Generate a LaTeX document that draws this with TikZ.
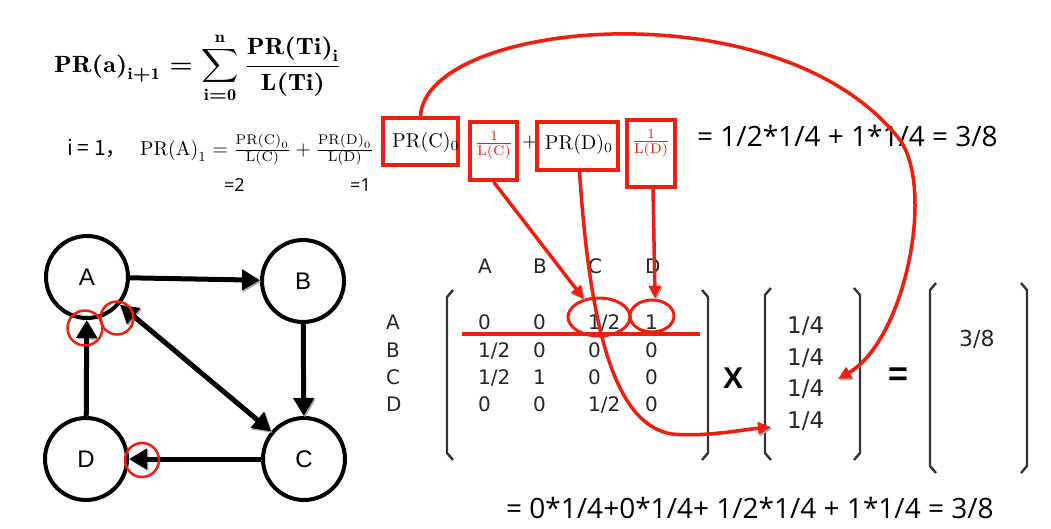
\documentclass[tikz,border=0pt]{standalone}
\usepackage{graphicx}
\usepackage{fontspec}
\usetikzlibrary{arrows.meta,shapes.geometric}
\newfontfamily\yahei{Noto Sans CJK SC}
\newfontfamily\dvs{DejaVu Sans}
\newfontfamily\lsans{Liberation Sans}
\newfontfamily\osans{Open Sans}
\definecolor{myred}{RGB}{240,30,15}
\newcommand{\ftop}{\scalebox{2.6}[2.35]{\boldmath$\mathrm{PR(a)}_{\mathrm{i+1}}=\displaystyle\sum_{\mathrm{i=0}}^{\mathrm{n}}\frac{\mathrm{PR(Ti)}_{\mathrm{i}}}{\mathrm{L(Ti)}}$}}
\newcommand{\fline}{\scalebox{1.97}[2]{$\mathrm{PR(A)}_1=\frac{\mathrm{PR(C)}_0}{\mathrm{L(C)}}+\frac{\mathrm{PR(D)}_0}{\mathrm{L(D)}}=$}}
\newcommand{\scl}[1]{\scalebox{2}{#1}}
\tikzset{
  gshadow/.style={preaction={draw=black!35, transform canvas={shift={(1.3pt,-1.5pt)}}}},
  redline/.style={draw=myred, line width=3.5pt, gshadow},
  redarrow/.style={redline, -{Triangle[length=13pt,width=12pt]}},
  redbox/.style={draw=myred, line width=3.5pt, fill=white, rectangle, inner sep=0pt},
  redring/.style={draw=myred, line width=3pt, ellipse, inner sep=0pt},
  gnode/.style={circle, draw=black, line width=4pt, fill=white, minimum size=82pt, inner sep=0pt, font=\lsans\fontsize{24}{28}\selectfont},
  gedge/.style={draw=black, line width=5pt, gshadow},
  gtip/.style={-{Triangle[length=18pt,width=20pt]}},
  brk/.style={draw=black!80, line width=2.4pt},
  mtx/.style={font=\dvs\fontsize{20}{24}\selectfont, text=black!85, anchor=base west, inner sep=0pt},
  vec/.style={font=\dvs\fontsize{23}{27}\selectfont, text=black!85, anchor=base west, inner sep=0pt},
  bigtxt/.style={font=\osans\fontsize{28}{32}\selectfont, anchor=base west, inner sep=0pt},
}
\begin{document}
\begin{tikzpicture}[x=1pt,y=-1pt]
\useasboundingbox (0,0) rectangle (1051,528);
\fill[white] (0,0) rectangle (1051,528);

\node[anchor=west, inner sep=0pt] (f0) at (54,68) {\ftop};

\node[anchor=base west, inner sep=0pt] (i1) at (67,155) {\yahei\fontsize{21}{24}\selectfont i = 1，};
\node[anchor=base west, inner sep=0pt] (l2) at (140,155) {\fline};
\node[anchor=base west, inner sep=0pt] (e2) at (224,191) {\osans\fontsize{18}{22}\selectfont =2};
\node[anchor=base west, inner sep=0pt] (e1) at (350,191) {\osans\fontsize{18}{22}\selectfont =1};

\node[redbox, minimum width=75pt, minimum height=47pt] (b1) at (420.5,141.5) {};
\node[anchor=west, inner sep=0pt] (t1) at (392,142) {\scl{PR(C)$_0$}};
\node[redbox, minimum width=47pt, minimum height=58pt] (b2) at (493.5,151) {};
\node[inner sep=0pt, text=myred] (t2) at (494,145) {\scl{$\frac{1}{\mathrm{L(C)}}$}};
\node[inner sep=0pt] (pl) at (530,142) {\scl{$+$}};
\node[redbox, minimum width=81pt, minimum height=48pt] (b3) at (577.5,146) {};
\node[inner sep=0pt] (t3) at (579,144) {\scl{PR(D)$_0$}};
\node[redbox, minimum width=48pt, minimum height=67pt] (b4) at (651,153.5) {};
\node[inner sep=0pt, text=myred] (t4) at (651,143) {\scl{$\frac{1}{\mathrm{L(D)}}$}};

\node[bigtxt] (r1) at (697,146) {= 1/2*1/4 + 1*1/4 = 3/8};
\node[bigtxt] (r2) at (506,518) {= 0*1/4+0*1/4+ 1/2*1/4 + 1*1/4 = 3/8};

\node[gnode] (A) at (87,277) {A};
\node[gnode] (B) at (303,281) {B};
\node[gnode] (C) at (304,459) {C};
\node[gnode] (D) at (86,459) {D};
\draw[gedge, gtip] (A) -- (B);
\draw[gedge, gtip] (B) -- (C);
\draw[gedge, {Triangle[length=18pt,width=20pt]}-{Triangle[length=18pt,width=20pt]}] (A) -- (C);
\draw[gedge, gtip] (C) -- (D);
\draw[gedge, gtip] (D) -- (A);
\node[circle, draw=myred, line width=2.5pt, minimum size=35pt, inner sep=0pt] (rc1) at (85,328) {};
\node[circle, draw=myred, line width=2.5pt, minimum size=33pt, inner sep=0pt] (rc2) at (117,318) {};
\node[circle, draw=myred, line width=2.5pt, minimum size=34pt, inner sep=0pt] (rc3) at (142,460) {};

\node[mtx] (hA) at (478,273) {A};
\node[mtx] (hB) at (533,273) {B};
\node[mtx] (hC) at (588,273) {C};
\node[mtx] (hD) at (645,273) {D};
\node[mtx] (rA) at (386,329) {A};
\node[mtx] (rB) at (386,357) {B};
\node[mtx] (rC) at (386,384) {C};
\node[mtx] (rD) at (386,411) {D};
\node[mtx] (m11) at (478,329) {0};
\node[mtx] (m12) at (533,329) {0};
\node[mtx] (m13) at (588,329) {1/2};
\node[mtx] (m14) at (645,329) {1};
\node[mtx] (m21) at (478,357) {1/2};
\node[mtx] (m22) at (533,357) {0};
\node[mtx] (m23) at (588,357) {0};
\node[mtx] (m24) at (645,357) {0};
\node[mtx] (m31) at (478,384) {1/2};
\node[mtx] (m32) at (533,384) {1};
\node[mtx] (m33) at (588,384) {0};
\node[mtx] (m34) at (645,384) {0};
\node[mtx] (m41) at (478,411) {0};
\node[mtx] (m42) at (533,411) {0};
\node[mtx] (m43) at (588,411) {1/2};
\node[mtx] (m44) at (645,411) {0};
\draw[brk] (453,290) -- (447,297) -- (447,453) -- (453,460);
\draw[brk] (702,290) -- (708,297) -- (708,453) -- (702,460);

\node[inner sep=0pt, font=\lsans\bfseries\fontsize{30}{32}\selectfont] (X) at (733,378) {X};

\node[vec] (v1) at (787,333) {1/4};
\node[vec] (v2) at (787,365) {1/4};
\node[vec] (v3) at (787,396) {1/4};
\node[vec] (v4) at (787,428) {1/4};
\draw[brk] (771,288) -- (765,295) -- (765,453) -- (771,460);
\draw[brk] (854,288) -- (860,295) -- (860,453) -- (854,460);

\node[inner sep=0pt, font=\lsans\bfseries\fontsize{34}{36}\selectfont] (eq) at (898,377) {=};

\node[vec, font=\dvs\fontsize{22}{26}\selectfont] (res) at (959,346) {3/8};
\draw[brk] (936,283) -- (930,290) -- (930,466) -- (936,473);
\draw[brk] (1021,283) -- (1027,290) -- (1027,466) -- (1021,473);

\node[redring, minimum width=62pt, minimum height=38pt] (ec) at (599,317) {};
\node[redring, minimum width=44pt, minimum height=32pt] (ed) at (652,316) {};
\coordinate (hl0) at (462,334);
\coordinate (hl1) at (700,334);
\draw[redline] (hl0) -- (hl1);

\draw[redarrow] (b2.south) -- (ec.130);
\draw[redarrow] ([xshift=2pt]b4.south) -- (ed.80);
\coordinate (vin4) at (771,427);
\draw[redarrow] ([xshift=2pt]b3.south) .. controls (590,330) and (615,425) .. (672,434) .. controls (705,437) and (740,430) .. (vin4);
\coordinate (vin3) at (838,379);
\coordinate (arcm) at (900,140);
\draw[redarrow] (b1.north) .. controls (425,20) and (780,-15) .. (arcm) .. controls (935,190) and (905,340) .. (vin3);
\end{tikzpicture}
\end{document}
